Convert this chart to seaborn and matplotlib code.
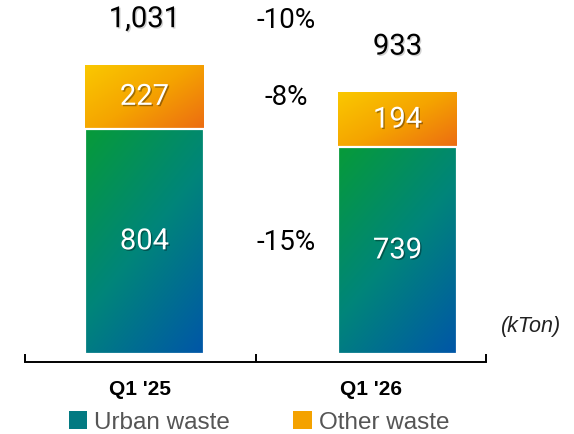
import numpy as np
import pandas as pd
import matplotlib
matplotlib.use("Agg")
import matplotlib.pyplot as plt
import seaborn as sns
from matplotlib.colors import LinearSegmentedColormap
from matplotlib.patches import Patch
import matplotlib.patheffects as pe

# ---- data ----
periods = ["Q1 '25", "Q1 '26"]
urban_waste = [804, 739]
other_waste = [227, 194]
totals = [1031, 933]
pct_total = "-10%"
pct_other = "-8%"
pct_urban = "-15%"
series_names = ["Urban waste", "Other waste"]
unit_label = "(kTon)"

df = pd.DataFrame({"period": periods, "urban": urban_waste,
                   "other": other_waste, "total": totals})

sns.set_theme(style="white")
plt.rcParams["font.family"] = ["Roboto", "DejaVu Sans"]
narrow = ["Liberation Sans Narrow", "Liberation Sans", "DejaVu Sans"]

fig = plt.figure(figsize=(5.74, 4.35), dpi=100)
ax = fig.add_axes([25 / 574, 72 / 435, 461 / 574, 363 / 435])

bw = 0.47
sns.barplot(data=df, x="period", y="total", color="#f5a300", width=bw, ax=ax)
n_tot = len(ax.patches)
sns.barplot(data=df, x="period", y="urban", color="#047a80", width=bw, ax=ax)
tot_patches = ax.patches[:n_tot]
urb_patches = ax.patches[n_tot:]

cmap_urban = LinearSegmentedColormap.from_list("u", ["#079b38", "#00857a", "#0056a8"])
cmap_other = LinearSegmentedColormap.from_list("o", ["#fac800", "#f5a400", "#ec6c12"])


def grad(wu, wv, n=200):
    u = np.linspace(0, 1, n)[None, :]
    v = np.linspace(0, 1, n)[:, None]
    return wu * u + wv * v


for p, ub in zip(tot_patches, urban_waste):
    x0, y0 = p.get_x(), p.get_y()
    w, h = p.get_width(), p.get_height()
    im = ax.imshow(grad(0.55, 0.45), cmap=cmap_other, vmin=0, vmax=1,
                   extent=(x0, x0 + w, ub, y0 + h), origin="upper",
                   aspect="auto", zorder=1, interpolation="bilinear")
    im.set_clip_path(p)
    p.set_facecolor("none")
    p.set_edgecolor("none")

for p in urb_patches:
    x0, y0 = p.get_x(), p.get_y()
    w, h = p.get_width(), p.get_height()
    im = ax.imshow(grad(0.4, 0.6), cmap=cmap_urban, vmin=0, vmax=1,
                   extent=(x0, x0 + w, y0, y0 + h), origin="upper",
                   aspect="auto", zorder=2, interpolation="bilinear")
    im.set_clip_path(p)
    p.set_facecolor("none")
    p.set_edgecolor("white")
    p.set_linewidth(1.6)
    p.set_zorder(3)

ax.set_xlim(-0.472, 1.35)
ax.set_ylim(-28.5, 1266.5)

shadow_w = [pe.withSimplePatchShadow(offset=(1, -1), shadow_rgbFace="black", alpha=0.35)]
shadow_b = [pe.withSimplePatchShadow(offset=(1, -1), shadow_rgbFace="grey", alpha=0.35)]

# segment labels
for i in range(len(periods)):
    ax.text(i, urban_waste[i] / 2, f"{urban_waste[i]:,}", ha="center", va="center",
            color="white", fontsize=21, zorder=5, path_effects=shadow_w)
    ax.text(i, urban_waste[i] + other_waste[i] / 2, f"{other_waste[i]:,}", ha="center",
            va="center", color="white", fontsize=21, zorder=5, path_effects=shadow_w)
    ax.annotate(f"{totals[i]:,}", xy=(i, totals[i]), xytext=(0, 33),
                textcoords="offset points", ha="center", va="center",
                color="black", fontsize=21, zorder=5, path_effects=shadow_b,
                annotation_clip=False)

# variation labels between bars
xp = 0.559
ax.annotate(pct_total, xy=(xp, totals[0]), xytext=(0, 33), textcoords="offset points",
            ha="center", va="center", fontsize=20, color="black", annotation_clip=False)
ax.text(xp, urban_waste[0] + other_waste[0] / 2, pct_other, ha="center", va="center",
        fontsize=20, color="black")
ax.text(xp, urban_waste[0] / 2, pct_urban, ha="center", va="center",
        fontsize=20, color="black")

# unit
fig.text(561 / 574, 1 - 327 / 435, unit_label, ha="right", va="center", fontsize=15.5,
         style="italic", color="#222222", family=["Liberation Sans", "DejaVu Sans"])

# axis
for s in ["top", "right", "left"]:
    ax.spines[s].set_visible(False)
ax.spines["bottom"].set_color("black")
ax.spines["bottom"].set_linewidth(1.4)
ax.set_yticks([])
ax.set_xlabel("")
ax.set_ylabel("")
ax.set_xticks([-0.016, 0.895])
ax.set_xticklabels(periods, fontsize=15, fontweight="bold", family=narrow)
ax.set_xticks([-0.472, 0.4407, 1.35], minor=True)
ax.tick_params(axis="x", which="major", length=0, pad=12, colors="black")
ax.tick_params(axis="x", which="minor", direction="in", length=6, width=1.4,
               color="black", bottom=True)

handles = [Patch(facecolor="#037a82", edgecolor="none"),
           Patch(facecolor="#f4a200", edgecolor="none")]
fig.legend(handles, series_names, loc="center", bbox_to_anchor=(259 / 574, 12 / 435),
           ncol=2, frameon=False, handlelength=0.75, handleheight=0.75, handletextpad=0.3,
           columnspacing=2.6, borderaxespad=0,
           prop={"family": narrow, "size": 17.5},
           labelcolor="#555555")

fig.savefig("out.png", dpi=100)
